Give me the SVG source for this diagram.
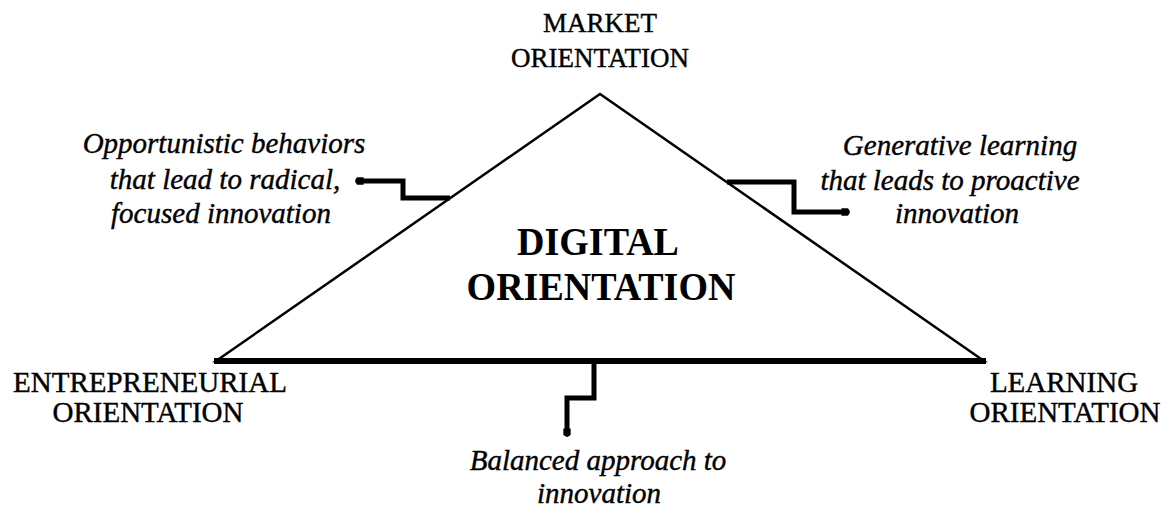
<svg xmlns="http://www.w3.org/2000/svg" width="1171" height="513" viewBox="0 0 1171 513">
<style>
.cap{font-family:"Liberation Serif","Times New Roman",serif;font-size:29px;fill:#000;stroke:#000;stroke-width:0.4;text-anchor:middle}
.it{font-family:"Liberation Serif","Times New Roman",serif;font-size:29px;font-style:italic;fill:#000;stroke:#000;stroke-width:0.4;text-anchor:middle}
.big{font-family:"Liberation Serif","Times New Roman",serif;font-size:40px;font-weight:bold;fill:#000;text-anchor:middle}
.conn{fill:none;stroke:#000;stroke-width:5;stroke-linejoin:miter}
</style>
<defs>
<marker id="dot" viewBox="0 0 12 12" refX="5" refY="6" markerWidth="11" markerHeight="11" markerUnits="userSpaceOnUse" orient="auto">
<path d="M0,2 L7,2 Q11.5,6 7,10 L0,10 Z" fill="#000"/>
</marker>
</defs>
<rect width="1171" height="513" fill="#fff"/>
<g id="triangle">
<polygon points="216,361 600,94 984,361" fill="#fff" stroke="#000" stroke-width="2.5"/>
<line x1="214" y1="361" x2="986" y2="361" stroke="#000" stroke-width="6"/>
<text class="big" transform="translate(598,255) scale(0.95,1)">DIGITAL</text>
<text class="big" transform="translate(601,300) scale(0.95,1)">ORIENTATION</text>
</g>
<g id="market">
<text class="cap" x="600" y="32" style="font-size:27px">MARKET</text>
<text class="cap" x="600" y="67" style="font-size:27px">ORIENTATION</text>
</g>
<g id="entrepreneurial">
<text class="cap" x="150" y="392">ENTREPRENEURIAL</text>
<text class="cap" x="148" y="422">ORIENTATION</text>
</g>
<g id="learning">
<text class="cap" x="1064" y="392">LEARNING</text>
<text class="cap" x="1065" y="422">ORIENTATION</text>
</g>
<g id="opportunistic">
<text class="it" x="224" y="153">Opportunistic behaviors</text>
<text class="it" x="225" y="189">that lead to radical,</text>
<text class="it" x="221" y="223">focused innovation</text>
</g>
<g id="generative">
<text class="it" x="960" y="155">Generative learning</text>
<text class="it" x="950" y="190">that leads to proactive</text>
<text class="it" x="957" y="223">innovation</text>
</g>
<g id="balanced">
<text class="it" x="598" y="470">Balanced approach to</text>
<text class="it" x="599" y="503">innovation</text>
</g>
<g id="connectors">
<polyline class="conn" points="450,198 403,198 403,181 359,181" marker-end="url(#dot)"/>
<polyline class="conn" points="727,182 794,182 794,212 846,212" marker-end="url(#dot)"/>
<polyline class="conn" points="594,361 594,398 567,398 567,433" marker-end="url(#dot)"/>
</g>
</svg>
